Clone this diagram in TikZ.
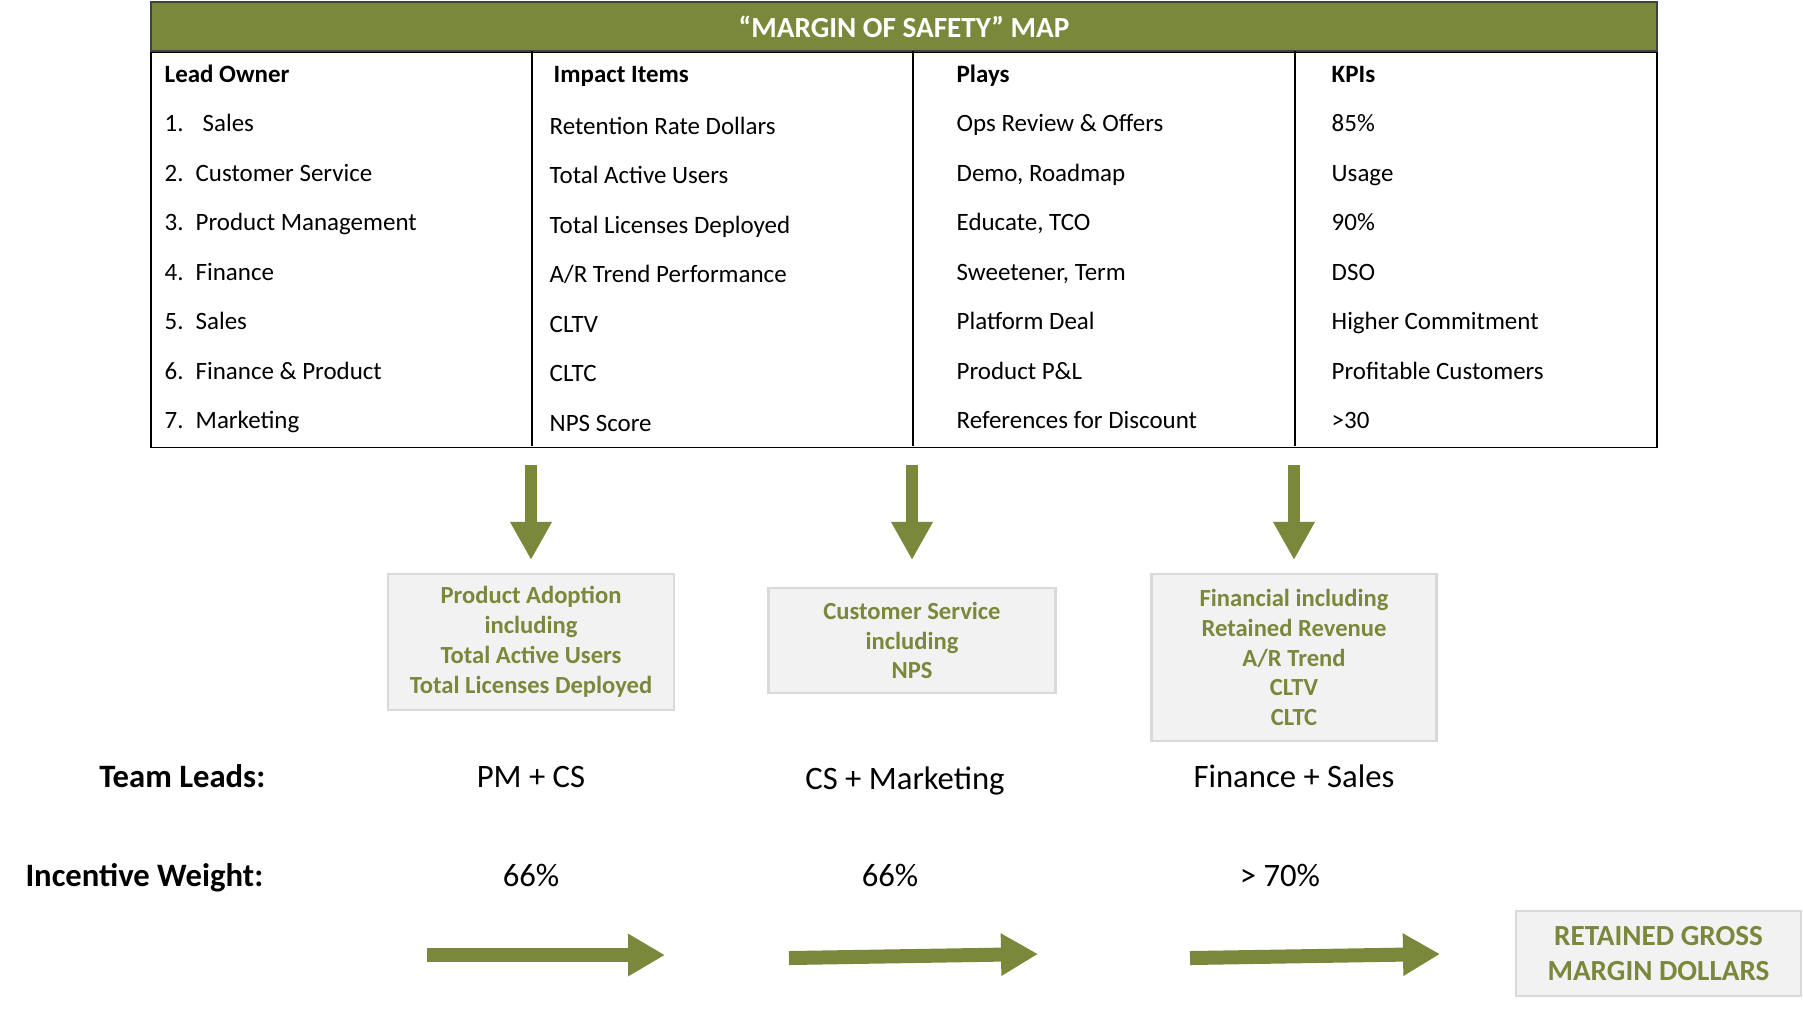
\documentclass[tikz,border=0pt]{standalone}
\usepackage{fontspec}
\setmainfont{Carlito}
\usetikzlibrary{arrows.meta,positioning,calc}

\definecolor{safegreen}{RGB}{122,136,59}
\definecolor{boxfill}{RGB}{242,242,242}
\definecolor{boxline}{RGB}{217,217,217}

\begin{document}
\begin{tikzpicture}[x=0.1mm, y=-0.1mm,
  cell/.style={anchor=west, inner sep=0pt, text height=0.7em, text depth=0.2em, font=\fontsize{7.1}{8.5}\selectfont},
  head/.style={cell, font=\fontsize{7.1}{8.5}\selectfont\bfseries},
  metric/.style={draw=boxline, line width=0.6pt, fill=boxfill, text=safegreen, align=center, inner sep=0pt, font=\fontsize{7}{8.5}\selectfont\bfseries},
  lead/.style={inner sep=0pt, text height=0.7em, text depth=0.2em, font=\fontsize{9.3}{11}\selectfont},
  leadlbl/.style={lead, anchor=east, font=\fontsize{9.3}{11}\selectfont\bfseries},
  darr/.style={draw=safegreen, line width=1.15mm, -{Triangle[width=3.9mm, length=3.8mm]}, shorten <=1.7mm},
  rarr/.style={draw=safegreen, line width=1.4mm, -{Triangle[width=4mm, length=3.7mm]}}
]
\fill[white] (0,0) rectangle (1803,1008);

% the map table
\node[draw=black!75, line width=0.4pt, fill=safegreen, minimum width=150.6mm, minimum height=4.9mm, inner sep=0pt, text=white, font=\fontsize{8.3}{10}\selectfont\bfseries] (title) at (904,26.5) {“MARGIN OF SAFETY” MAP};
\node[draw, line width=0.4pt, minimum width=150.6mm, minimum height=39.5mm, inner sep=0pt, anchor=north] (grid) at (title.south) {};
\foreach \c in {532,913,1295}
  \draw[line width=0.4pt] (\c,51) -- (\c,446);

\node[head] (hOwner) at (164,74) {Lead Owner};
\node[head] (hImpact) at (553,74) {Impact Items};
\node[head] (hPlays) at (956,74) {Plays};
\node[head] (hKpi) at (1331,74) {KPIs};

\foreach \y/\a/\b/\c/\d [count=\i] in {
  123/{\makebox[3.8mm][l]{1.}Sales}/Retention Rate Dollars/Ops Review \& Offers/85\%,
  172.5/{\makebox[3.1mm][l]{2.}Customer Service}/Total Active Users/{Demo, Roadmap}/Usage,
  222/{\makebox[3.1mm][l]{3.}Product Management}/Total Licenses Deployed/{Educate, TCO}/90\%,
  271.5/{\makebox[3.1mm][l]{4.}Finance}/{A/R Trend Performance}/{Sweetener, Term}/DSO,
  321/{\makebox[3.1mm][l]{5.}Sales}/CLTV/Platform Deal/Higher Commitment,
  370.5/{\makebox[3.1mm][l]{6.}Finance \& Product}/CLTC/Product P\&L/Profitable Customers,
  420/{\makebox[3.1mm][l]{7.}Marketing}/NPS Score/References for Discount/>30}
{
  \node[cell] (own\i) at (164,\y) {\a};
  \node[cell] (imp\i) at (549,\y+2.5) {\b};
  \node[cell] (play\i) at (956,\y) {\c};
  \node[cell] (kpi\i) at (1331,\y) {\d};
}

% metric groups
\node[metric, minimum width=28.6mm, minimum height=13.6mm] (adopt) at (531,642) {Product Adoption\\including\\Total Active Users\\Total Licenses Deployed};
\node[metric, minimum width=28.7mm, minimum height=10.5mm] (service) at (912,640.5) {Customer Service\\including\\NPS};
\node[metric, minimum width=28.5mm, minimum height=16.7mm] (finance) at (1294,657.5) {Financial including\\Retained Revenue\\A/R Trend\\CLTV\\CLTC};

\draw[darr, shorten >=1.3mm] (adopt.north |- grid.south) -- (adopt.north);
\draw[darr, shorten >=2.7mm] (service.north |- grid.south) -- (service.north);
\draw[darr, shorten >=1.3mm] (finance.north |- grid.south) -- (finance.north);

% leads and weights
\node[leadlbl] (teamlbl) at (266,779) {Team Leads:};
\node[lead] (team1) at (adopt |- teamlbl) {PM + CS};
\node[lead] (team2) at (905,781) {CS + Marketing};
\node[lead] (team3) at (finance |- teamlbl) {Finance + Sales};

\node[leadlbl] (weightlbl) at (264,878) {Incentive Weight:};
\node[lead] (weight1) at (adopt |- weightlbl) {66\%};
\node[lead] (weight2) at (890,878) {66\%};
\node[lead] (weight3) at (1280,878) {> 70\%};

\node[metric, minimum width=28.5mm, minimum height=8.5mm, font=\fontsize{8.3}{10.2}\selectfont\bfseries] (retained) at (1658.5,953.5) {RETAINED GROSS\\MARGIN DOLLARS};

\coordinate (r1s) at (427,955);
\coordinate (r1e) at (665,955);
\coordinate (r2s) at (789,958);
\coordinate (r2e) at (1038,954);
\coordinate (r3s) at (1190,958);
\coordinate (r3e) at (1440,954);
\draw[rarr] (r1s) -- (r1e);
\draw[rarr] (r2s) -- (r2e);
\draw[rarr] (r3s) -- (r3e);

\end{tikzpicture}
\end{document}
